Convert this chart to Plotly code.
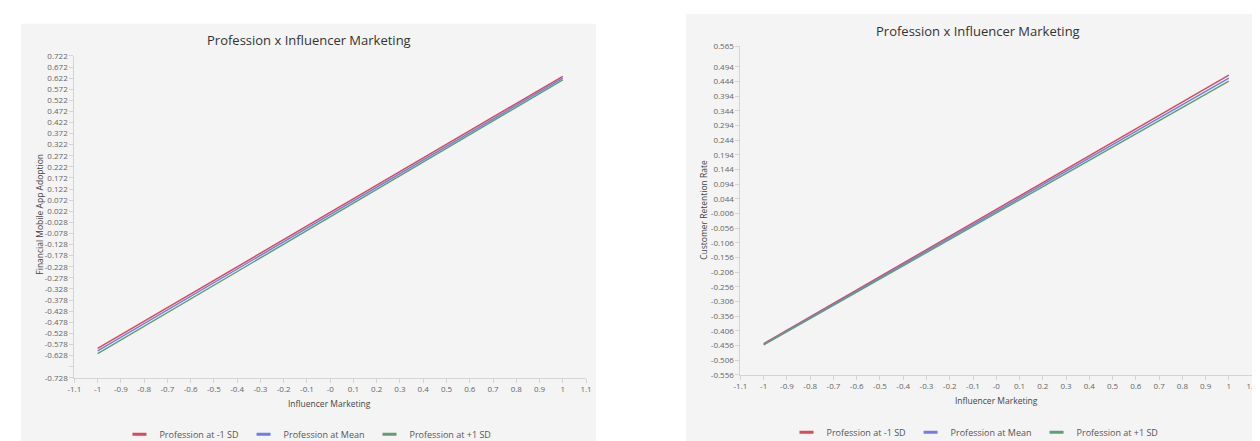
import plotly.graph_objects as go

# ---- data ----
x_points = [-1, 1]
series_names = ["Profession at -1 SD", "Profession at Mean", "Profession at +1 SD"]
series_colors = ["#d9495a", "#6f7fe0", "#5f9f78"]

left_red = [-0.596, 0.630]
left_blue = [-0.607, 0.622]
left_green = [-0.620, 0.614]

right_red = [-0.450, 0.466]
right_blue = [-0.452, 0.456]
right_green = [-0.454, 0.446]

x_tickvals = [round(-1.1 + 0.1 * i, 1) for i in range(23)]
x_ticktext = ["-1.1", "-1", "-0.9", "-0.8", "-0.7", "-0.6", "-0.5", "-0.4", "-0.3", "-0.2", "-0.1",
              "-0", "0.1", "0.2", "0.3", "0.4", "0.5", "0.6", "0.7", "0.8", "0.9", "1", "1.1"]

left_ytickvals = [round(0.722 - 0.05 * k, 3) for k in range(30)]
left_yticktext = ["%.3f" % v for v in left_ytickvals]
left_yticktext[28] = ""  # the -0.678 tick has no label in the reference

right_ytickvals = [0.565] + [round(0.494 - 0.05 * k, 3) for k in range(22)]
right_yticktext = ["%.3f" % v for v in right_ytickvals]

W, H = 1260, 441
FONT = "Open Sans"
TICKC = "#666666"
AXC = "#d4d4d4"
BG = "#f4f4f4"

fig = go.Figure()

left_series = [left_red, left_blue, left_green]
right_series = [right_red, right_blue, right_green]
panels = [("x", "y", "legend", left_series), ("x2", "y2", "legend2", right_series)]
for xa, ya, lg, series in panels:
    for name, col, ys in zip(series_names, series_colors, series):
        fig.add_trace(go.Scatter(x=x_points, y=ys, mode="lines", name=name,
                                 line=dict(color=col, width=1.5), showlegend=False,
                                 xaxis=xa, yaxis=ya))
    # legend entries: short thick dash like the reference
    for name, col in zip(series_names, series_colors):
        fig.add_trace(go.Scatter(x=[None], y=[None], mode="markers", name=name,
                                 marker=dict(symbol="line-ew", size=10, color=col,
                                             line=dict(color=col, width=3)),
                                 xaxis=xa, yaxis=ya, legend=lg))


def px_x(p):
    return p / W


def px_y(p):
    return (H - p) / H


common_axis = dict(showgrid=False, zeroline=False, showline=True, linecolor=AXC, linewidth=1,
                   ticks="outside", ticklen=4, tickcolor=AXC, ticklabeloverflow="allow",
                   tickfont=dict(family=FONT, size=8, color=TICKC), fixedrange=True)

legend_common = dict(orientation="h", xanchor="center", yanchor="middle",
                     font=dict(family=FONT, size=9, color="#555555"), bgcolor="rgba(0,0,0,0)",
                     itemwidth=30, tracegroupgap=0)

fig.update_layout(
    width=W, height=H,
    margin=dict(l=0, r=0, t=0, b=0),
    paper_bgcolor="white",
    plot_bgcolor="rgba(0,0,0,0)",
    font=dict(family=FONT),
    xaxis=dict(domain=[px_x(60), px_x(577)], range=[-1.1, 1.1], anchor="y",
               tickmode="array", tickvals=x_tickvals, ticktext=x_ticktext, **common_axis),
    yaxis=dict(domain=[px_y(373), px_y(43)], range=[-0.728, 0.722], anchor="x",
               tickmode="array", tickvals=left_ytickvals, ticktext=left_yticktext, **common_axis),
    xaxis2=dict(domain=[px_x(733), px_x(1250)], range=[-1.1, 1.1], anchor="y2",
                tickmode="array", tickvals=x_tickvals, ticktext=x_ticktext, **common_axis),
    yaxis2=dict(domain=[px_y(370), px_y(33)], range=[-0.556, 0.565], anchor="x2",
                tickmode="array", tickvals=right_ytickvals, ticktext=right_yticktext, **common_axis),
    legend=dict(x=px_x(296), y=px_y(431), **legend_common),
    legend2=dict(x=px_x(970), y=px_y(429), **legend_common),
    shapes=[
        dict(type="rect", xref="paper", yref="paper", x0=px_x(6), x1=px_x(587), y0=0, y1=px_y(10),
             fillcolor=BG, line=dict(width=0), layer="below"),
        dict(type="rect", xref="paper", yref="paper", x0=px_x(678), x1=1, y0=0, y1=1,
             fillcolor=BG, line=dict(width=0), layer="below"),
    ],
    annotations=[
        dict(text="Profession x Influencer Marketing", xref="paper", yref="paper",
             x=px_x(297), y=px_y(27), xanchor="center", yanchor="middle", showarrow=False,
             font=dict(family=FONT, size=13, color="#333333")),
        dict(text="Profession x Influencer Marketing", xref="paper", yref="paper",
             x=px_x(973), y=px_y(17), xanchor="center", yanchor="middle", showarrow=False,
             font=dict(family=FONT, size=13, color="#333333")),
        dict(text="Influencer Marketing", xref="paper", yref="paper",
             x=px_x(318), y=px_y(399), xanchor="center", yanchor="middle", showarrow=False,
             font=dict(family=FONT, size=8.5, color="#444444")),
        dict(text="Influencer Marketing", xref="paper", yref="paper",
             x=px_x(992), y=px_y(396), xanchor="center", yanchor="middle", showarrow=False,
             font=dict(family=FONT, size=8.5, color="#444444")),
        dict(text="Financial Mobile App Adoption", xref="paper", yref="paper",
             x=px_x(25), y=px_y(205), xanchor="center", yanchor="middle", showarrow=False,
             textangle=-90, font=dict(family=FONT, size=8.5, color="#444444")),
        dict(text="Customer Retention Rate", xref="paper", yref="paper",
             x=px_x(696), y=px_y(201), xanchor="center", yanchor="middle", showarrow=False,
             textangle=-90, font=dict(family=FONT, size=8.5, color="#444444")),
    ],
)

fig.write_html("out.html")
